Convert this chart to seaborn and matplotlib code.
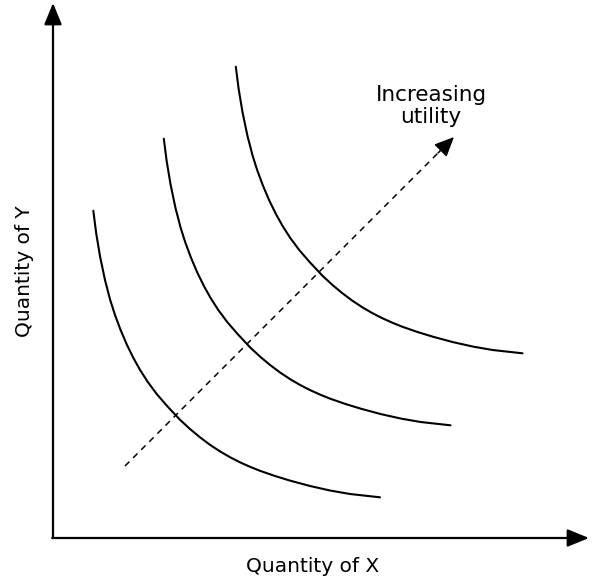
import numpy as np
import pandas as pd
import seaborn as sns
import matplotlib
matplotlib.use("Agg")
import matplotlib.pyplot as plt

# Indifference curves (data units: origin at the axes corner)
curve1_x = [4.03, 4.32, 4.71, 5.2, 5.72, 6.2, 6.76, 7.4, 8.04, 8.71, 9.48, 10.37, 11.41, 12.7,
            13.7, 14.7, 15.7, 16.7, 17.7, 18.7, 19.7, 20.7, 22.2, 23.7, 25.7, 27.7, 29.7, 32.7]
curve1_y = [32.73, 30.47, 28.13, 25.8, 23.8, 22.3, 20.8, 19.3, 18.0, 16.8, 15.6, 14.4, 13.2, 11.82,
            10.9, 10.07, 9.32, 8.66, 8.08, 7.57, 7.12, 6.72, 6.2, 5.74, 5.2, 4.75, 4.4, 4.07]

curve2_x = [11.08, 11.37, 11.76, 12.25, 12.77, 13.25, 13.81, 14.45, 15.09, 15.76, 16.53, 17.42, 18.46, 19.75,
            20.75, 21.75, 22.75, 23.75, 24.75, 25.75, 26.75, 27.75, 29.25, 30.75, 32.75, 34.75, 36.75, 39.75]
curve2_y = [39.93, 37.67, 35.33, 33.0, 31.0, 29.5, 28.0, 26.5, 25.2, 24.0, 22.8, 21.6, 20.4, 19.02,
            18.1, 17.27, 16.52, 15.86, 15.28, 14.77, 14.32, 13.92, 13.4, 12.94, 12.4, 11.95, 11.6, 11.27]

curve3_x = [18.28, 18.57, 18.96, 19.45, 19.97, 20.45, 21.01, 21.65, 22.29, 22.96, 23.73, 24.62, 25.66, 26.95,
            27.95, 28.95, 29.95, 30.95, 31.95, 32.95, 33.95, 34.95, 36.45, 37.95, 39.95, 41.95, 43.95, 46.95]
curve3_y = [47.13, 44.87, 42.53, 40.2, 38.2, 36.7, 35.2, 33.7, 32.4, 31.2, 30.0, 28.8, 27.6, 26.22,
            25.3, 24.47, 23.72, 23.06, 22.48, 21.97, 21.52, 21.12, 20.6, 20.14, 19.6, 19.15, 18.8, 18.47]

arrow_x = [7.2, 40.1]
arrow_y = [7.2, 40.1]

x_label = "Quantity of X"
y_label = "Quantity of Y"
arrow_label = "Increasing\nutility"

rows = []
for name, xs, ys in [("U1", curve1_x, curve1_y), ("U2", curve2_x, curve2_y), ("U3", curve3_x, curve3_y)]:
    for i, (a, b) in enumerate(zip(xs, ys)):
        rows.append({"curve": name, "order": i, "x": a, "y": b})
df = pd.DataFrame(rows)

sns.set_theme(style="white")
plt.rcParams['font.family'] = ['DejaVu Sans']

fig = plt.figure(figsize=(5.92, 5.81), dpi=100)
ax = fig.add_axes([0, 0, 1, 1])
ax.set_xlim(-5.3, 53.9)
ax.set_ylim(-4.3, 53.8)

sns.lineplot(data=df, x="x", y="y", units="curve", estimator=None, sort=False,
             color="black", linewidth=1.5, ax=ax)

# dashed arrow
sns.lineplot(x=[arrow_x[0], arrow_x[1] - 1.0], y=[arrow_y[0], arrow_y[1] - 1.0],
             color="black", linewidth=1.1, linestyle=(0, (4, 3.5)), ax=ax)
ax.annotate("", xy=(arrow_x[1], arrow_y[1]), xytext=(arrow_x[1] - 1.6, arrow_y[1] - 1.6),
            arrowprops=dict(arrowstyle="-|>,head_length=1.0,head_width=0.45",
                            color="black", lw=1.1, shrinkA=0, shrinkB=0))

# axes arrows
ax.annotate("", xy=(0, 53.5), xytext=(0, 0),
            arrowprops=dict(arrowstyle="-|>,head_length=1.1,head_width=0.45",
                            color="black", lw=1.6, shrinkA=0, shrinkB=0))
ax.annotate("", xy=(53.6, 0), xytext=(-0.08, 0),
            arrowprops=dict(arrowstyle="-|>,head_length=1.1,head_width=0.45",
                            color="black", lw=1.6, shrinkA=0, shrinkB=0))

ax.text(26.0, -2.9, x_label, ha="center", va="center", fontsize=14.5, color="black")
ax.text(-2.8, 26.7, y_label, ha="center", va="center", fontsize=14.5, color="black", rotation=90)
ax.text(37.8, 43.2, arrow_label, ha="center", va="center", fontsize=15.5, color="black",
        linespacing=1.1)

ax.set_axis_off()
ax.set_xlabel("")
ax.set_ylabel("")
fig.savefig("out.png", dpi=100)
